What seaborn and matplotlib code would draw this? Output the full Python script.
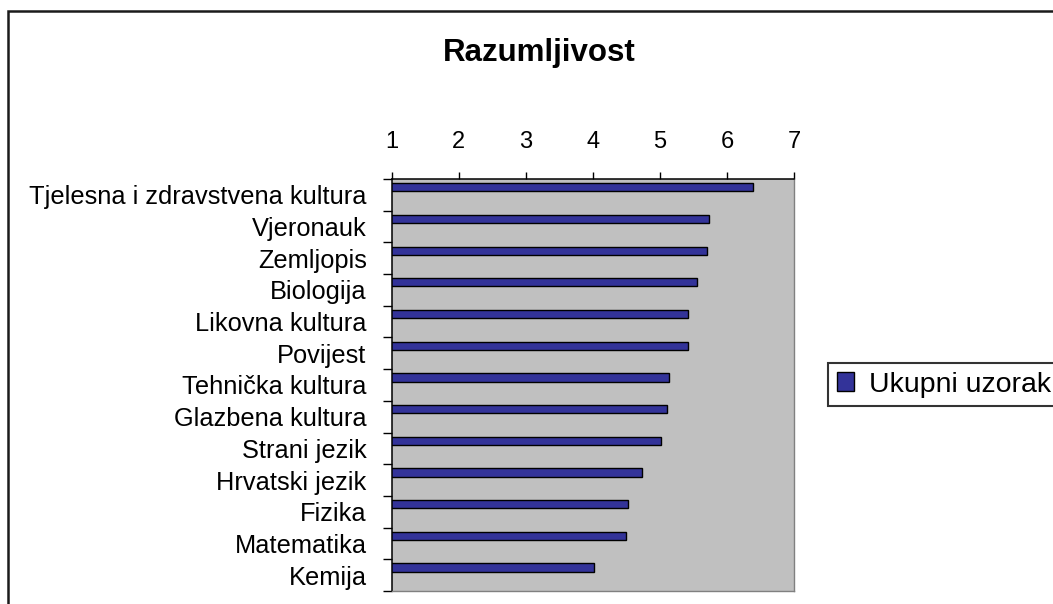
import matplotlib
matplotlib.use("Agg")
import matplotlib.pyplot as plt
from matplotlib.patches import Rectangle
import numpy as np
import pandas as pd
import seaborn as sns

# Data
subjects = [
    "Tjelesna i zdravstvena kultura",
    "Vjeronauk",
    "Zemljopis",
    "Biologija",
    "Likovna kultura",
    "Povijest",
    "Tehnička kultura",
    "Glazbena kultura",
    "Strani jezik",
    "Hrvatski jezik",
    "Fizika",
    "Matematika",
    "Kemija",
]
scores = [6.38, 5.73, 5.70, 5.55, 5.42, 5.41, 5.14, 5.11, 5.02, 4.73, 4.52, 4.49, 4.02]
series_name = "Ukupni uzorak"
title = "Razumljivost"
scale_ticks = [1, 2, 3, 4, 5, 6, 7]

df = pd.DataFrame({"subject": subjects, "score": scores})

sns.set_style("white")
plt.rcParams["font.family"] = ["Liberation Sans", "DejaVu Sans"]
plt.rcParams["text.color"] = "black"
plt.rcParams["xtick.color"] = "black"
plt.rcParams["ytick.color"] = "black"
plt.rcParams["xtick.labelcolor"] = "black"
plt.rcParams["ytick.labelcolor"] = "black"

W, H = 1053, 604
fig = plt.figure(figsize=(W / 100, H / 100), dpi=100, facecolor="white")

# plot area in pixel coordinates
x0, x1, y0, y1 = 391.7, 794.3, 179.0, 591.0
ax = fig.add_axes([x0 / W, 1 - y1 / H, (x1 - x0) / W, (y1 - y0) / H])
ax.set_facecolor("#C0C0C0")

sns.barplot(data=df, x="score", y="subject", orient="h", color="#333399",
            edgecolor="black", linewidth=1.0, width=0.26, saturation=1,
            label=series_name, ax=ax)

# bars sit in the upper part of each category band
for p in ax.patches:
    p.set_y(p.get_y() - 0.24)

ax.set_xlim(scale_ticks[0], scale_ticks[-1])
ax.set_ylim(len(subjects) - 0.5, -0.5)
ax.set_xlabel("")
ax.set_ylabel("")

# x axis on top
ax.xaxis.tick_top()
ax.set_xticks(scale_ticks)
ax.set_xticklabels([str(t) for t in scale_ticks])
ax.tick_params(axis="x", which="major", top=True, bottom=False, length=5.3,
               width=1.0, color="black", labelcolor="black", pad=13.5, labelsize=17)

# y axis: labels at band centres, ticks on band boundaries
ax.set_yticks(range(len(subjects)))
ax.set_yticklabels(subjects)
ax.set_yticks(np.arange(-0.5, len(subjects), 1.0), minor=True)
ax.tick_params(axis="y", which="major", left=True, length=0, pad=18,
               labelsize=18.3, labelcolor="black")
ax.tick_params(axis="y", which="minor", left=True, length=6.5, width=1.0, color="black")

for side in ["left", "top"]:
    ax.spines[side].set_visible(True)
    ax.spines[side].set_color("black")
    ax.spines[side].set_linewidth(1.1)
for side in ["right", "bottom"]:
    ax.spines[side].set_visible(True)
    ax.spines[side].set_color("#808080")
    ax.spines[side].set_linewidth(1.0)

# title
fig.text(539 / W, 1 - 53 / H, title, ha="center", va="center",
         fontsize=22.5, fontweight="bold", color="black")

# legend
leg = ax.legend(loc="center left", bbox_to_anchor=(828 / W, 1 - 384.5 / H),
                bbox_transform=fig.transFigure, borderaxespad=0, fontsize=20.5,
                frameon=True, fancybox=False, shadow=False, borderpad=0.3,
                handlelength=0.6, handleheight=0.6, handletextpad=0.55)
leg.get_frame().set_edgecolor("black")
leg.get_frame().set_linewidth(1.5)
for t in leg.get_texts():
    t.set_color("black")

# chart border
fig.patches.append(Rectangle((8 / W, -0.1), 2.0, 1.1 - 11 / H,
                             transform=fig.transFigure, fill=False,
                             edgecolor="#1a1a1a", linewidth=1.8, clip_on=False))

fig.savefig("out.png", dpi=100, facecolor="white")
